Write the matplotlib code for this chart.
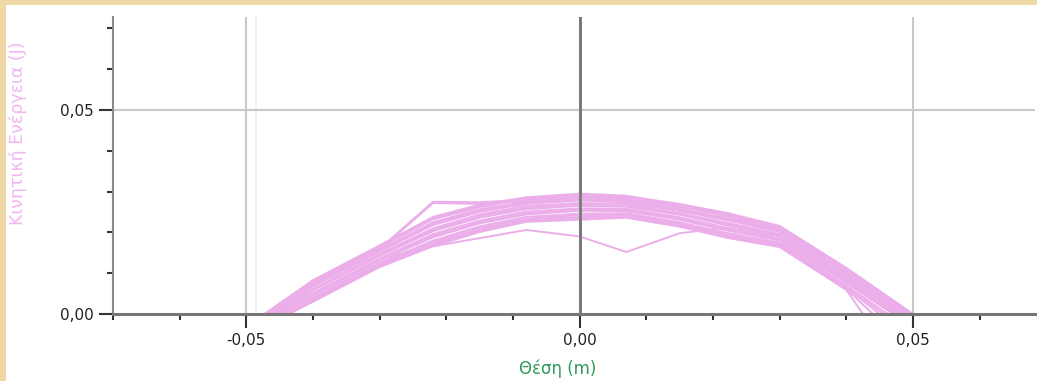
import matplotlib.pyplot as plt
import matplotlib
from matplotlib.patches import Rectangle
from matplotlib.ticker import MultipleLocator, FixedLocator, FuncFormatter

matplotlib.rcParams['font.family'] = ['DejaVu Sans']

# position samples inside each sweep (m)
grid_pos = [-0.04, -0.03, -0.022, -0.015, -0.008, 0.0, 0.007, 0.015, 0.022, 0.03, 0.04]

# turning points of each sweep (kinetic energy = 0 there)
left_turn = [-0.0473, -0.0471, -0.0470, -0.0466, -0.0464, -0.0462, -0.0459, -0.0457,
             -0.0455, -0.0452, -0.0450, -0.0448, -0.0444, -0.0442, -0.0440, -0.0438,
             -0.0436, -0.0468, -0.0465, -0.0450]
right_turn = [0.0500, 0.0499, 0.0497, 0.0494, 0.0492, 0.0490, 0.0486, 0.0484,
              0.0481, 0.0476, 0.0473, 0.0470, 0.0462, 0.0456, 0.0450, 0.0440,
              0.0425, 0.0498, 0.0495, 0.0478]

# kinetic energy (J) at grid_pos for each sweep
ke = [
    [0.0083, 0.0168, 0.0238, 0.0268, 0.0286, 0.0295, 0.0290, 0.0268, 0.0248, 0.0216, 0.0113],
    [0.0080, 0.0166, 0.0235, 0.0265, 0.0284, 0.0292, 0.0287, 0.0265, 0.0245, 0.0213, 0.0111],
    [0.0078, 0.0163, 0.0232, 0.0262, 0.0281, 0.0289, 0.0284, 0.0262, 0.0243, 0.0211, 0.0108],
    [0.0072, 0.0158, 0.0225, 0.0257, 0.0275, 0.0283, 0.0280, 0.0258, 0.0236, 0.0206, 0.0104],
    [0.0070, 0.0155, 0.0221, 0.0254, 0.0272, 0.0280, 0.0277, 0.0255, 0.0233, 0.0203, 0.0101],
    [0.0068, 0.0153, 0.0218, 0.0250, 0.0270, 0.0278, 0.0274, 0.0252, 0.0230, 0.0201, 0.0098],
    [0.0062, 0.0148, 0.0210, 0.0244, 0.0265, 0.0272, 0.0270, 0.0247, 0.0224, 0.0196, 0.0093],
    [0.0060, 0.0145, 0.0206, 0.0240, 0.0261, 0.0268, 0.0266, 0.0245, 0.0221, 0.0193, 0.0090],
    [0.0057, 0.0142, 0.0203, 0.0236, 0.0257, 0.0265, 0.0263, 0.0243, 0.0218, 0.0191, 0.0087],
    [0.0051, 0.0136, 0.0196, 0.0229, 0.0251, 0.0259, 0.0258, 0.0237, 0.0212, 0.0185, 0.0082],
    [0.0049, 0.0134, 0.0192, 0.0225, 0.0247, 0.0256, 0.0255, 0.0234, 0.0208, 0.0182, 0.0079],
    [0.0046, 0.0131, 0.0188, 0.0222, 0.0244, 0.0253, 0.0252, 0.0231, 0.0205, 0.0180, 0.0076],
    [0.0041, 0.0126, 0.0180, 0.0215, 0.0238, 0.0246, 0.0247, 0.0225, 0.0199, 0.0175, 0.0070],
    [0.0038, 0.0123, 0.0176, 0.0211, 0.0234, 0.0242, 0.0244, 0.0222, 0.0195, 0.0172, 0.0067],
    [0.0035, 0.0120, 0.0172, 0.0207, 0.0231, 0.0238, 0.0241, 0.0219, 0.0192, 0.0169, 0.0064],
    [0.0033, 0.0118, 0.0169, 0.0204, 0.0228, 0.0235, 0.0238, 0.0216, 0.0190, 0.0166, 0.0061],
    [0.0030, 0.0115, 0.0166, 0.0201, 0.0226, 0.0231, 0.0236, 0.0214, 0.0187, 0.0164, 0.0059],
    [0.0075, 0.0160, 0.0275, 0.0274, 0.0280, 0.0290, 0.0288, 0.0270, 0.0247, 0.0212, 0.0110],
    [0.0070, 0.0157, 0.0272, 0.0270, 0.0276, 0.0285, 0.0283, 0.0265, 0.0240, 0.0208, 0.0105],
    [0.0050, 0.0135, 0.0166, 0.0186, 0.0206, 0.0190, 0.0152, 0.0198, 0.0212, 0.0190, 0.0085],
]

x_ticks = [-0.05, 0.0, 0.05]
y_ticks = [0.0, 0.05]

fig = plt.figure(figsize=(10.37, 3.81), dpi=100)
fig.patch.set_facecolor('#eed8a6')
# white panel behind the graph
fig.patches.append(Rectangle((6 / 1037, 0), 1.0, 1 - 5 / 381, transform=fig.transFigure,
                             facecolor='white', edgecolor='none', zorder=-10))

ax = fig.add_axes([113 / 1037, 1 - 314 / 381, (1035 - 113) / 1037, (314 - 17) / 381])
ax.set_zorder(1)
ax.patch.set_alpha(0)

ax.set_xlim(-0.07, 0.0683)
ax.set_ylim(0, 0.0728)

# grid lines
for xv in x_ticks:
    if xv != 0:
        ax.axvline(xv, color='#c9c9c9', lw=1.5, zorder=1)
ax.axvline(-0.0485, color='#eeeeee', lw=1.2, zorder=1)
ax.axhline(0.05, color='#c9c9c9', lw=1.5, zorder=1)
ax.axvline(0.0, color='#7a7a7a', lw=2.0, zorder=1)

for i in range(len(ke)):
    xs = [left_turn[i]] + grid_pos + [right_turn[i]]
    ys = [0.0] + ke[i] + [0.0]
    ax.plot(xs, ys, color='#ebaeea', lw=1.4, zorder=2, solid_joinstyle='round')

# the zero line shows through the band
ax.axvline(0.0, color='#7a7a7a', lw=2.0, zorder=3)

for s in ['top', 'right']:
    ax.spines[s].set_visible(False)
ax.spines['bottom'].set_color('#777777')
ax.spines['bottom'].set_linewidth(2.2)
ax.spines['left'].set_color('#8a8a8a')
ax.spines['left'].set_linewidth(1.5)
ax.spines['bottom'].set_zorder(4)

ax.xaxis.set_major_locator(FixedLocator(x_ticks))
ax.yaxis.set_major_locator(FixedLocator(y_ticks))
ax.xaxis.set_minor_locator(MultipleLocator(0.01))
ax.yaxis.set_minor_locator(MultipleLocator(0.01))

fmt = FuncFormatter(lambda v, p: ('%.2f' % v).replace('.', ',').replace('-0,00', '0,00'))
ax.xaxis.set_major_formatter(fmt)
ax.yaxis.set_major_formatter(fmt)

ax.tick_params(which='major', length=10, width=1.5, color='#333333', labelsize=11,
               labelcolor='#222222', pad=4)
ax.tick_params(which='minor', length=4.5, width=1.5, color='#333333')

fig.text(18 / 1037, 1 - 133 / 381, 'Κινητική Ενέργεια (J)', rotation=90, color='#f1b6f0',
         fontsize=12.5, ha='center', va='center')
fig.text(558 / 1037, 1 - 369 / 381, 'Θέση (m)', color='#2e9b5c', fontsize=12,
         ha='center', va='center')

fig.savefig('out.png', dpi=100, facecolor=fig.get_facecolor())
